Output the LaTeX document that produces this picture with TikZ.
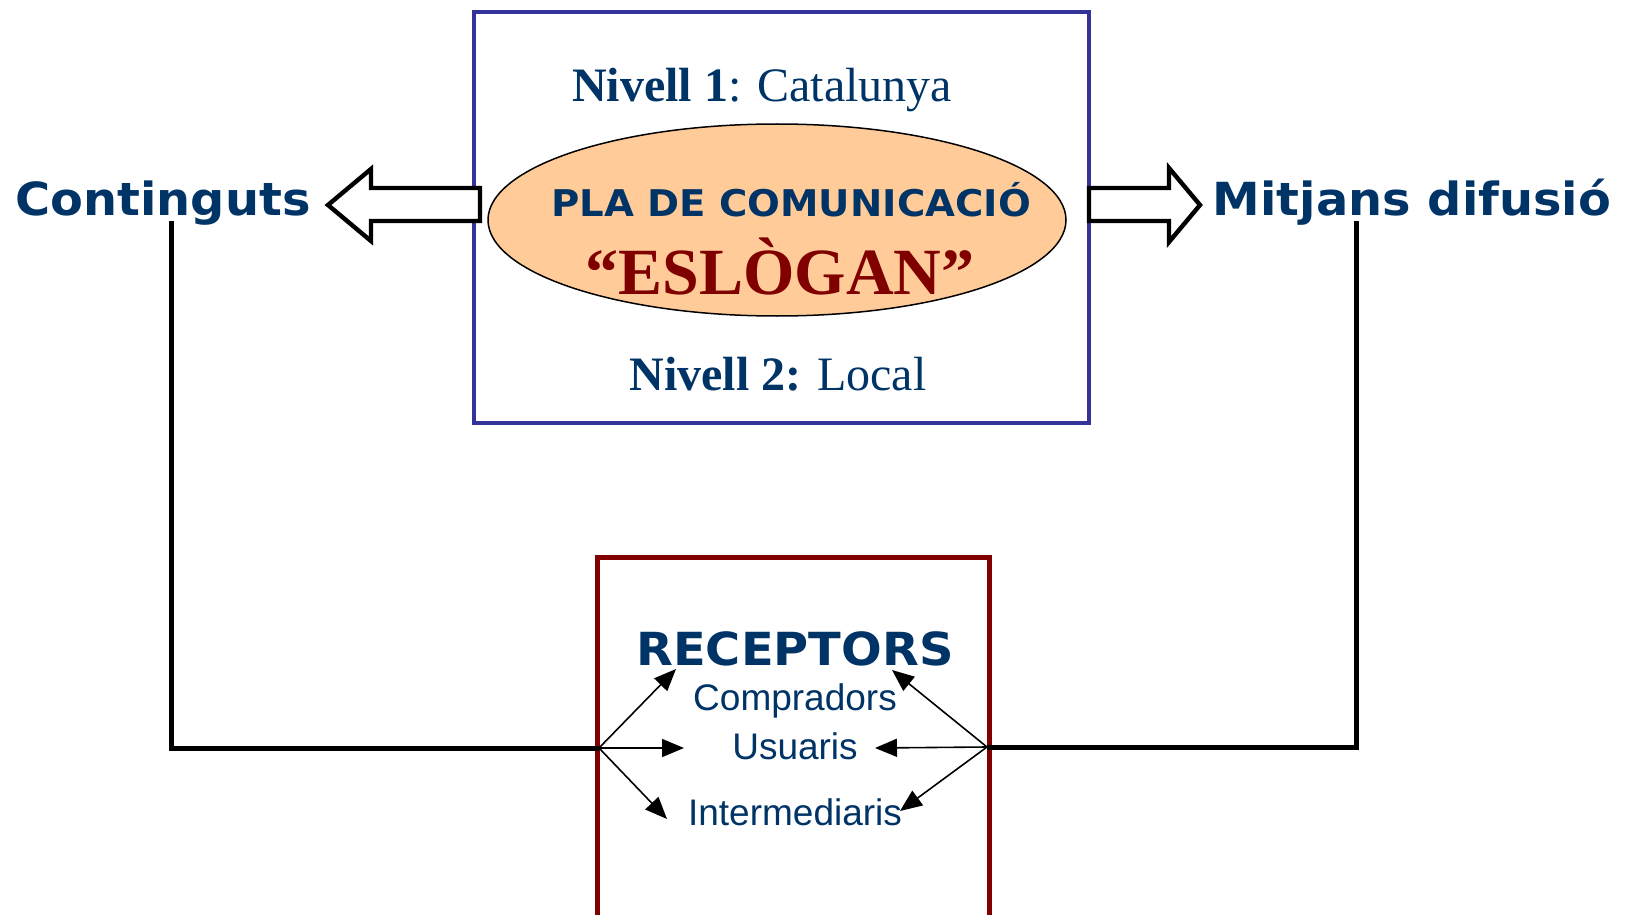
\documentclass[tikz,border=0pt]{standalone}
\usepackage{fontspec}
\setmainfont{Liberation Serif}
\setsansfont{Liberation Sans}
\newfontfamily\headfont[FakeStretch=1.05]{DejaVu Sans}
\usetikzlibrary{arrows.meta,positioning,calc,shapes.geometric}
\definecolor{navy}{RGB}{0,51,102}
\definecolor{boxblue}{RGB}{51,51,153}
\definecolor{maroon}{RGB}{128,0,0}
\definecolor{peach}{RGB}{255,204,153}

\begin{document}
\begin{tikzpicture}[
    x=0.5pt, y=-0.5pt,
    side/.style={font=\headfont\bfseries\fontsize{22.8}{26}\selectfont, text=navy, inner sep=0pt, anchor=base},
    level/.style={font=\fontsize{24}{28}\selectfont, text=navy, inner sep=0pt, anchor=base},
    group/.style={font=\sffamily\fontsize{18.5}{22}\selectfont, text=navy, inner sep=0pt, anchor=base},
    blockarrow/.style={draw=black, line width=2.2pt, fill=white, line join=miter},
    feedback/.style={line width=2.5pt},
    fan/.style={-{Triangle[length=11pt,width=9pt]}, line width=0.8pt},
]
\useasboundingbox (0,0) rectangle (1629,915);

% Communication plan
\node[draw=boxblue, line width=2pt, minimum width=307.5pt, minimum height=205.5pt] (plan) at (781.5,217.5) {};
\node[ellipse, draw, line width=0.75pt, fill=peach, minimum width=289pt, minimum height=96pt] (pla) at (777,220) {};
\node[level] (level1) at (762,102) {\textbf{Nivell 1}: Catalunya};
\node[level] (level2) at (778,390) {\textbf{Nivell 2:} Local};
\node[font=\headfont\bfseries\fontsize{18.4}{20}\selectfont, text=navy, inner sep=0pt, anchor=base] (plantitle) at (791,216) {PLA DE COMUNICACIÓ};
\node[font=\bfseries\fontsize{33}{36}\selectfont, text=maroon, inner sep=0pt, anchor=base] (slogan) at (780,294) {``ESLÒGAN''};

% Two outputs
\node[side] (contents) at (163,215) {Continguts};
\node[side] (media) at (1412,215) {Mitjans difusió};
\draw[blockarrow] (480,188) -- (371,188) -- (371,169) -- (328,205) -- (371,241) -- (371,221) -- (480,221) -- cycle;
\draw[blockarrow] (1089,188) -- (1169,188) -- (1169,168) -- (1200,205) -- (1169,242) -- (1169,221) -- (1089,221) -- cycle;

% Receivers
\draw[maroon, line width=2.5pt] (597,930) |- (989,557) -- (989,930);
\node[side] (receptors) at (795,665) {RECEPTORS};
\node[group] (buyers) at (795,710) {Compradors};
\node[group] (users) at (795,759) {Usuaris};
\node[group] (brokers) at (795,825) {Intermediaris};

% Feedback lines
\coordinate (lfoot) at (171,221);
\coordinate (rfoot) at (1356,221);
\coordinate (hubL) at (599,748);
\coordinate (hubR) at (987,747);
\draw[feedback] (lfoot) |- (hubL);
\draw[feedback] (rfoot) |- (hubR);

% Fan of arrows
\coordinate (lbuy) at (676,669);
\coordinate (luse) at (684,748);
\coordinate (lbro) at (667,819);
\coordinate (rbuy) at (892,670);
\coordinate (ruse) at (875,748);
\coordinate (rbro) at (900,811);
\foreach \t in {lbuy,luse,lbro} \draw[fan] (hubL) -- (\t);
\foreach \t in {rbuy,ruse,rbro} \draw[fan] (hubR) -- (\t);

\end{tikzpicture}
\end{document}
